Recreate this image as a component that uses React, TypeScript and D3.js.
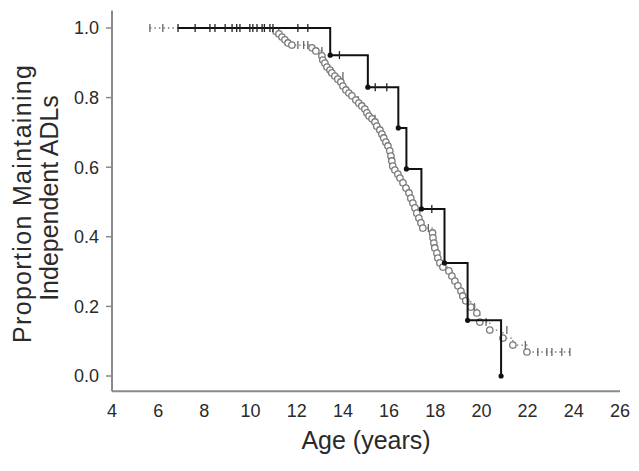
import React from "react";
import * as d3 from "d3";

// Black curve: Kaplan-Meier events (age, survival after drop)
const blackStart = 6.86;
const blackEventAges = [13.45, 15.08, 16.4, 16.75, 17.4, 18.4, 19.4, 20.85];
const blackEventValues = [0.922, 0.83, 0.713, 0.595, 0.48, 0.325, 0.16, 0.0];
const blackCensorAges = [6.86, 7.6, 8.24, 8.46, 8.9, 9.2, 9.4, 9.54, 9.97, 10.1, 10.28, 10.5, 10.6, 10.84, 10.97, 12.05, 12.48, 13.85, 15.4, 15.9, 17.85];
const blackCensorValues = [1, 1, 1, 1, 1, 1, 1, 1, 1, 1, 1, 1, 1, 1, 1, 1, 1, 0.922, 0.83, 0.83, 0.48];

// Gray curve: events (open circles)
const grayStart = 5.64;
const grayEventAges = [11.1, 11.23, 11.36, 11.49, 11.62, 11.79, 12.66, 12.83, 13.09, 13.13, 13.22, 13.31, 13.44, 13.52, 13.65, 13.78, 13.91, 14.0, 14.13, 14.26, 14.39, 14.56, 14.69, 14.82, 14.95, 15.04, 15.13, 15.26, 15.39, 15.47, 15.6, 15.69, 15.77, 15.86, 15.95, 16.03, 16.08, 16.12, 16.16, 16.25, 16.38, 16.47, 16.6, 16.73, 16.86, 16.94, 17.03, 17.12, 17.2, 17.29, 17.38, 17.46, 17.88, 17.9, 17.94, 17.98, 18.07, 18.11, 18.2, 18.33, 18.59, 18.72, 18.85, 18.98, 19.11, 19.19, 19.32, 19.54, 19.8, 19.93, 20.36, 20.93, 21.36, 21.97];
const grayEventValues = [0.991, 0.983, 0.974, 0.966, 0.957, 0.951, 0.943, 0.934, 0.92, 0.908, 0.899, 0.888, 0.879, 0.871, 0.862, 0.853, 0.845, 0.833, 0.822, 0.813, 0.805, 0.793, 0.784, 0.776, 0.767, 0.756, 0.747, 0.739, 0.73, 0.718, 0.707, 0.695, 0.684, 0.672, 0.661, 0.647, 0.632, 0.618, 0.603, 0.592, 0.58, 0.569, 0.555, 0.54, 0.526, 0.511, 0.497, 0.483, 0.468, 0.454, 0.44, 0.425, 0.411, 0.397, 0.382, 0.368, 0.353, 0.339, 0.325, 0.313, 0.302, 0.287, 0.273, 0.259, 0.244, 0.23, 0.216, 0.198, 0.181, 0.155, 0.132, 0.109, 0.089, 0.069];
const grayEnd = 23.83;
const grayCensorAges = [5.64, 6.2, 12.05, 12.3, 12.48, 13.09, 14.0, 14.65, 15.39, 17.7, 19.7, 20.2, 21.1, 21.9, 22.44, 22.83, 23.05, 23.48, 23.83];
const grayCensorValues = [1, 1, 0.951, 0.951, 0.951, 0.934, 0.862, 0.793, 0.739, 0.425, 0.198, 0.155, 0.132, 0.089, 0.069, 0.069, 0.069, 0.069, 0.069];

const xTicks = [4, 6, 8, 10, 12, 14, 16, 18, 20, 22, 24, 26];
const yTicks = [0, 0.2, 0.4, 0.6, 0.8, 1.0];

const FONT = "'Liberation Sans', Arial, Helvetica, sans-serif";

export default function App() {
  const W = 639, H = 471;
  const x = d3.scaleLinear().domain([4, 26]).range([112, 620]);
  const y = d3.scaleLinear().domain([0, 1]).range([376, 28]);
  const axisColor = "#8a8a8a";
  const textColor = "#2a2a2a";

  const blackPts: [number, number][] = [[blackStart, 1]];
  blackEventAges.forEach((a, i) => blackPts.push([a, blackEventValues[i]]));
  const stepLine = d3.line<[number, number]>().x(d => x(d[0])).y(d => y(d[1])).curve(d3.curveStepAfter);
  const blackPath = stepLine(blackPts) || "";

  const grayPts: [number, number][] = [[grayStart, 1]];
  grayEventAges.forEach((a, i) => grayPts.push([a, grayEventValues[i]]));
  grayPts.push([grayEnd, grayEventValues[grayEventValues.length - 1]]);
  const grayPath = stepLine(grayPts) || "";

  return (
    <svg width={W} height={H} style={{ display: "block", position: "absolute", left: 0, top: 0, background: "#fff" }}>
      {/* axes */}
      <line x1={x(4)} x2={x(4)} y1={y(1.05)} y2={y(-0.044)} stroke={axisColor} strokeWidth={2} />
      <line x1={x(4)} x2={x(26)} y1={y(-0.044)} y2={y(-0.044)} stroke={axisColor} strokeWidth={2} />
      {yTicks.map(t => (
        <g key={"yt" + t}>
          <line x1={x(4) - 6} x2={x(4)} y1={y(t)} y2={y(t)} stroke={axisColor} strokeWidth={1.5} />
          <text x={99} y={y(t)} dy="0.36em" textAnchor="end" fontFamily={FONT} fontSize={18} fill={textColor}>{t.toFixed(1)}</text>
        </g>
      ))}
      {xTicks.map(t => (
        <text key={"xt" + t} x={x(t)} y={417} textAnchor="middle" fontFamily={FONT} fontSize={18} fill={textColor}>{t}</text>
      ))}
      <text x={366} y={449} textAnchor="middle" fontFamily={FONT} fontSize={25} fill={textColor}>Age (years)</text>
      <text transform="translate(31,204) rotate(-90)" textAnchor="middle" fontFamily={FONT} fontSize={25} fill={textColor} textLength={278} lengthAdjust="spacing">Proportion Maintaining</text>
      <text transform="translate(58,198) rotate(-90)" textAnchor="middle" fontFamily={FONT} fontSize={25} fill={textColor}>Independent ADLs</text>

      {/* gray curve */}
      <path d={grayPath} fill="none" stroke="#777" strokeWidth={1.3} strokeDasharray="1.5,3" />
      {grayCensorAges.map((a, i) => (
        <line key={"gc" + i} x1={x(a)} x2={x(a)} y1={y(grayCensorValues[i]) - 4} y2={y(grayCensorValues[i]) + 4} stroke="#666" strokeWidth={1.3} />
      ))}
      {grayEventAges.map((a, i) => (
        <circle key={"ge" + i} cx={x(a)} cy={y(grayEventValues[i])} r={3.2} fill="#fff" stroke="#7a7a7a" strokeWidth={1.3} />
      ))}

      {/* black curve */}
      <path d={blackPath} fill="none" stroke="#111" strokeWidth={2} />
      {blackCensorAges.map((a, i) => (
        <line key={"bc" + i} x1={x(a)} x2={x(a)} y1={y(blackCensorValues[i]) - 4} y2={y(blackCensorValues[i]) + 4} stroke="#222" strokeWidth={1.3} />
      ))}
      {blackEventAges.map((a, i) => (
        <circle key={"be" + i} cx={x(a)} cy={y(blackEventValues[i])} r={2.6} fill="#111" />
      ))}
    </svg>
  );
}
